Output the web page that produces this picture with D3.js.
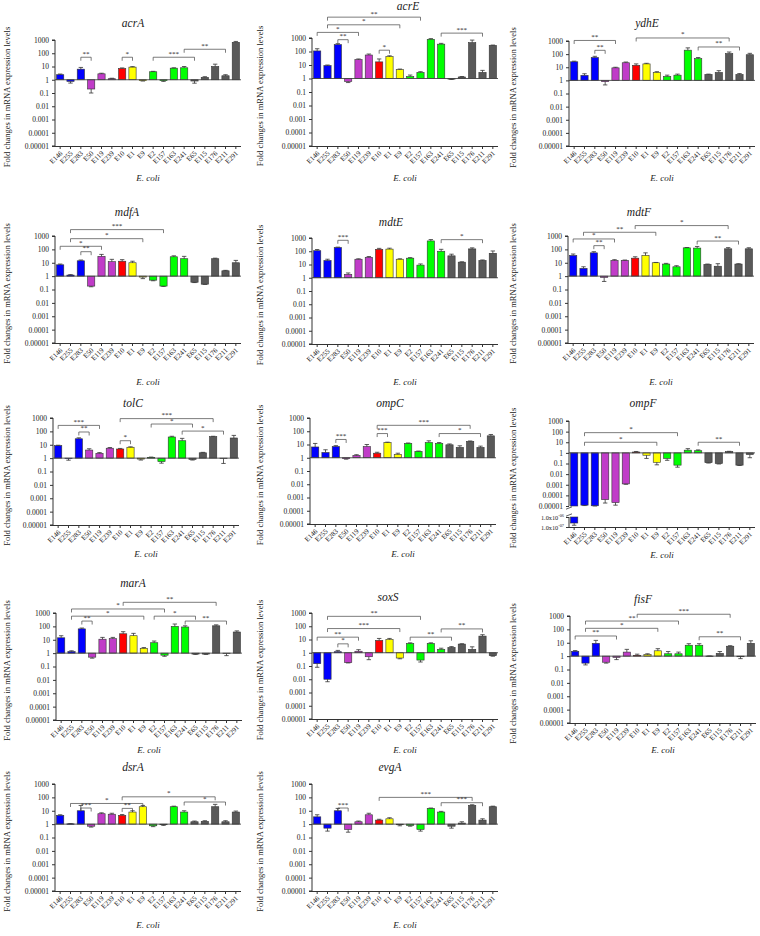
<!DOCTYPE html>
<html><head><meta charset="utf-8">
<script src="https://cdn.jsdelivr.net/npm/d3@7"></script>
<style>
body{margin:0;background:#fff}
svg{display:block}
text{font-family:"Liberation Serif","Times New Roman",serif;fill:#222}
</style>
</head><body>
<svg id="c" width="760" height="936"></svg>
<script>
// ---------------- DATA ----------------
const categories = ["E146","E255","E283","E50","E119","E239","E10","E1","E9","E2","E157","E163","E241","E65","E115","E176","E211","E291"];
const groups = ["blue","blue","blue","purple","purple","purple","red","yellow","yellow","green","green","green","green","grey","grey","grey","grey","grey"];
const groupColors = {blue:"#0000ff", purple:"#c03cc8", red:"#ff0000", yellow:"#ffff00", green:"#00ff00", grey:"#595959"};
const yTicks = [1000,100,10,1,0.1,0.01,0.001,0.0001,0.00001];
const yTickLabels = ["1000","100","10","1","0.1","0.01","0.001","0.0001","0.00001"];
const lowTicks = [1e-6,1e-7];
const lowTickExp = ["-06","-07"];

const acrA     = [2.4,0.75,6.3,0.2,2.8,1.2,7,9,0.85,4,0.85,7.5,8,0.8,1.5,10,2,670];
const acrA_err = [2.7,0.56,8.5,0.1,3.1,1.3,7.8,9.8,0.8,4.3,0.75,8,10,0.55,1.7,15,2.4,780];
const acrA_sig = [[2,3,50,"**"],[6,7,50,"*"],[9,13,50,"***"],[12,16,200,"**"]];

const acrE     = [110,9,320,0.6,25,55,17,42,4.5,1.4,2.8,800,350,0.9,1.3,450,2.8,280];
const acrE_err = [160,10,380,0.5,28,65,28,48,5,1.8,3.2,900,400,0.85,1.4,700,4,300];
const acrE_sig = [[0,4,2600,"*"],[2,3,750,"**"],[6,7,125,"*"],[1,8,9500,"*"],[1,10,35000,"**"],[12,16,2300,"***"]];

const ydhE     = [26,2.4,55,0.8,9,22,14,18,4,2,2.5,200,45,2.8,4,110,2.8,90];
const ydhE_err = [29,3.2,68,0.45,10,25,18,20,4.6,2.5,3,300,55,3,5.5,145,3.3,115];
const ydhE_sig = [[0,4,1100,"**"],[2,3,195,"**"],[6,15,1700,"*"],[12,16,350,"**"]];

const mdfA     = [7,1.2,14,0.18,30,12,13,10,0.85,0.5,0.18,28,20,0.35,0.25,20,2.5,10];
const mdfA_err = [8,1.3,16,0.16,42,18,17,13,0.65,0.45,0.17,33,30,0.33,0.24,22,2.7,15];
const mdfA_sig = [[0,4,170,"*"],[2,3,67,"**"],[1,8,630,"*"],[1,10,3000,"***"]];

const mdtE     = [110,20,190,1.8,25,35,140,145,25,30,9,600,100,45,15,150,20,70];
const mdtE_err = [135,25,205,2.3,27,40,165,170,27,33,11,760,140,60,16,180,22,105];
const mdtE_sig = [[2,3,670,"***"],[12,16,750,"*"]];

const mdtF     = [35,3.8,55,0.8,15,15,22,35,10,8,5,130,125,7.5,5.5,110,8,110];
const mdtF_err = [45,5,67,0.4,17,16,28,55,10.5,9,6,138,165,8,8.5,135,8.5,132];
const mdtF_sig = [[0,4,600,"*"],[2,3,190,"**"],[1,8,1900,"**"],[6,15,6000,"*"],[12,16,420,"**"]];

const tolC     = [8.5,0.97,28,4,2.3,5.5,4.8,6.5,0.85,1.15,0.55,38,20,0.8,2.5,40,0.98,32];
const tolC_err = [9.2,0.7,33,5,2.6,6.2,5.3,7,0.72,1.2,0.42,43,30,0.72,2.7,43,0.4,50];
const tolC_sig = [[0,4,280,"***"],[2,3,90,"**"],[6,7,20,"*"],[6,15,900,"***"],[9,13,355,"*"],[12,16,105,"*"]];

const ompC     = [6.5,2.5,7,0.85,1.5,7,2.2,14,1.8,12,3,14,12,9.5,6,17,6,45];
const ompC_err = [12,4,8.2,0.78,1.7,10,2.6,15,2.2,13,3.2,19,14,11,8,18.5,7.5,57];
const ompC_sig = [[2,3,24,"***"],[6,7,67,"***"],[6,15,280,"***"],[12,16,67,"*"]];

const ompF     = [2.5e-7,1.2e-5,1.05e-5,4e-5,2.1e-5,0.0012,1.2,0.6,0.13,0.3,0.07,1.8,1.6,0.12,0.1,1.3,0.07,0.7];
const ompF_err = [1.5e-7,1.1e-5,1.0e-5,1.9e-5,1.2e-5,0.0011,1.35,0.3,0.075,0.2,0.045,2.5,1.9,0.11,0.09,1.4,0.065,0.35];
const ompF_sig = [[1,10,80,"*"],[1,8,10,"*"],[12,16,10,"**"]];

const marA     = [14,1.3,65,0.5,11,12,28,20,2.3,6,0.7,100,90,0.85,0.85,110,0.95,38];
const marA_err = [20,1.5,75,0.42,15,15,40,30,2.6,8,0.58,150,110,0.8,0.8,130,0.65,46];
const marA_sig = [[2,3,250,"**"],[1,8,580,"*"],[1,10,2000,"*"],[6,15,6300,"**"],[9,13,580,"*"],[12,16,250,"**"]];

const soxS     = [0.15,0.01,1.2,0.18,1.3,0.5,8.5,10,0.4,5,0.28,5,1.8,2.5,4.5,1.8,18,0.6];
const soxS_err = [0.08,0.0065,1.5,0.17,1.7,0.3,12,12,0.35,5.6,0.2,5.6,2.2,2.9,4.8,2.8,23,0.55];
const soxS_sig = [[0,4,15,"**"],[2,3,4.7,"*"],[1,8,67,"***"],[1,10,560,"**"],[9,13,15,"**"],[12,16,63,"**"]];

const fisF     = [2.3,0.3,9,0.35,0.8,2,1.15,1.3,2.5,1.5,1.5,6.5,6.5,1.02,1.6,5.5,0.9,9];
const fisF_err = [2.6,0.22,15,0.3,0.55,3.2,1.4,1.5,3.6,2.2,2,8.5,8.5,1.03,2.2,6,0.65,14];
const fisF_sig = [[0,4,32,"**"],[1,8,120,"*"],[1,10,420,"**"],[6,15,1350,"***"],[12,16,28,"**"]];

const dsrA     = [4.5,1.05,10,0.7,6,5.5,4.5,8,20,0.75,0.9,20,8,1.5,1.6,20,1.5,8];
const dsrA_err = [5,1.1,25,0.6,7,6.5,5.2,10,25,0.65,0.8,22,10,1.7,1.8,30,1.8,9.5];
const dsrA_sig = [[2,3,16,"***"],[1,8,35,"*"],[6,7,15,"**"],[6,15,110,"*"],[12,16,45,"*"]];

const evgA     = [3.5,0.5,10,0.4,1.5,5,2,2.5,0.9,0.8,0.4,15,8,0.7,1.2,25,2,20];
const evgA_err = [5,0.3,15,0.25,1.7,6.5,2.3,3,0.75,0.7,0.3,16,9,0.5,1.5,28,2.5,22];
const evgA_sig = [[2,3,16,"***"],[6,15,100,"***"],[12,16,40,"***"]];

// ---------------- LAYOUT ----------------
const panels = [
 {g:"acrA", v:acrA, e:acrA_err, s:acrA_sig, ax:55,  top:40,  bot:146, tx:133, ty:23,  ey:178, lx:7},
 {g:"acrE", v:acrE, e:acrE_err, s:acrE_sig, ax:312, top:38,  bot:146, tx:408, ty:6,   ey:178, lx:260},
 {g:"ydhE", v:ydhE, e:ydhE_err, s:ydhE_sig, ax:569, top:41,  bot:146, tx:647, ty:23,  ey:178, lx:513},
 {g:"mdfA", v:mdfA, e:mdfA_err, s:mdfA_sig, ax:55,  top:236, bot:343, tx:127, ty:212, ey:382, lx:7},
 {g:"mdtE", v:mdtE, e:mdtE_err, s:mdtE_sig, ax:312, top:238, bot:344, tx:391, ty:222, ey:382, lx:260},
 {g:"mdtF", v:mdtF, e:mdtF_err, s:mdtF_sig, ax:568, top:236, bot:343, tx:639, ty:212, ey:382, lx:513},
 {g:"tolC", v:tolC, e:tolC_err, s:tolC_sig, ax:53,  top:418, bot:525, tx:133, ty:403, ey:554, lx:7},
 {g:"ompC", v:ompC, e:ompC_err, s:ompC_sig, ax:310, top:418, bot:524, tx:390, ty:403, ey:554, lx:260},
 {g:"ompF", v:ompF, e:ompF_err, s:ompF_sig, ax:569, top:421, bot:506, tx:643, ty:403, ey:555, lx:513, low:[517,527]},
 {g:"marA", v:marA, e:marA_err, s:marA_sig, ax:56,  top:613, bot:720, tx:133, ty:583, ey:750, lx:7},
 {g:"soxS", v:soxS, e:soxS_err, s:soxS_sig, ax:312, top:613, bot:719, tx:388, ty:597, ey:750, lx:260},
 {g:"fisF", v:fisF, e:fisF_err, s:fisF_sig, ax:570, top:616, bot:723, tx:643, ty:599, ey:750, lx:513},
 {g:"dsrA", v:dsrA, e:dsrA_err, s:dsrA_sig, ax:55,  top:784, bot:891, tx:133, ty:767, ey:925, lx:7},
 {g:"evgA", v:evgA, e:evgA_err, s:evgA_sig, ax:312, top:784, bot:891, tx:390, ty:767, ey:925, lx:260}
];

const svg = d3.select("#c");
const INK = "#333";

panels.forEach(p => {
  const g = svg.append("g");
  const W = 186;
  const x = d3.scaleBand().domain(categories).range([p.ax, p.ax + W]).paddingInner(0.3).paddingOuter(0.15);
  const segs = [{sc: d3.scaleLog().domain([1e-5, 1000]).range([p.bot, p.top])}];
  if (p.low) segs.push({sc: d3.scaleLog().domain([1e-7, 1e-6]).range([p.low[1], p.low[0]])});
  const yOf = v => {
    for (const s of segs) { const d = s.sc.domain(); if (v >= d[0]*0.999 && v <= d[1]*1.001) return s.sc(v); }
    return segs[segs.length-1].sc(Math.max(v, 1e-7));
  };
  const axisBottom = p.low ? p.low[1] : p.bot;
  const cx = i => x(categories[i]) + x.bandwidth()/2;

  // bars
  p.v.forEach((v, i) => {
    const lo = Math.min(1, v), hi = Math.max(1, v);
    segs.forEach(s => {
      const d = s.sc.domain();
      const a = Math.max(lo, d[0]), b = Math.min(hi, d[1]);
      if (a < b) {
        const y1 = s.sc(b), y2 = s.sc(a);
        g.append("rect").attr("x", x(categories[i])).attr("y", y1)
          .attr("width", x.bandwidth()).attr("height", Math.max(0.5, y2 - y1))
          .attr("fill", groupColors[groups[i]]).attr("stroke", INK).attr("stroke-width", 0.6);
      }
    });
    // error bar
    const e = p.e[i];
    const ya = yOf(v), yb = yOf(e);
    g.append("line").attr("x1", cx(i)).attr("x2", cx(i)).attr("y1", ya).attr("y2", yb)
      .attr("stroke", INK).attr("stroke-width", 0.8);
    g.append("line").attr("x1", cx(i) - 2.2).attr("x2", cx(i) + 2.2).attr("y1", yb).attr("y2", yb)
      .attr("stroke", INK).attr("stroke-width", 0.8);
  });

  // baseline at 1
  g.append("line").attr("x1", p.ax).attr("x2", p.ax + W).attr("y1", yOf(1)).attr("y2", yOf(1))
    .attr("stroke", "#444").attr("stroke-width", 0.9);

  // y axis (top segment)
  const yAx = d3.axisLeft(segs[0].sc).tickValues(yTicks).tickFormat((d, i) => yTickLabels[i]).tickSize(3).tickPadding(3);
  const ga = g.append("g").attr("transform", `translate(${p.ax},0)`).call(yAx);
  ga.select(".domain").attr("d", `M-3,${p.top}H0V${p.bot}` + (p.low ? "" : "H-3"));
  if (p.low) {
    const yAx2 = d3.axisLeft(segs[1].sc).tickValues(lowTicks).tickFormat("").tickSize(3);
    const gb = g.append("g").attr("transform", `translate(${p.ax},0)`).call(yAx2);
    gb.select(".domain").attr("d", `M0,${p.low[0]}V${p.low[1]}`);
    gb.selectAll(".tick").each(function(d, i) {
      const t = d3.select(this).append("text").attr("x", -5).attr("dy", "0.32em")
        .attr("text-anchor", "end").attr("font-size", 6.3).attr("fill", "#222");
      t.append("tspan").text("1.0x10");
      t.append("tspan").attr("font-size", 4.3).attr("dy", "-0.55em").text(lowTickExp[i]);
    });
    gb.selectAll("line,path").attr("stroke", INK);
    // break marks
    [p.bot + 2, p.low[0] - 2].forEach(yy => g.append("line").attr("x1", p.ax - 3).attr("x2", p.ax + 3)
      .attr("y1", yy + 1.2).attr("y2", yy - 1.2).attr("stroke", INK).attr("stroke-width", 0.8));
  }
  ga.selectAll("line,path").attr("stroke", INK);
  ga.selectAll("text").attr("font-size", 7.5).attr("fill", "#222");

  // x axis
  const xAx = d3.axisBottom(x).tickSize(3).tickSizeOuter(0).tickFormat("");
  const gx = g.append("g").attr("transform", `translate(0,${axisBottom})`).call(xAx);
  gx.select(".domain").attr("d", `M${p.ax},0.5H${p.ax + W}`);
  gx.selectAll("line,path").attr("stroke", INK);
  gx.selectAll(".tick").append("text")
    .attr("transform", "translate(1,6) rotate(-45)")
    .attr("text-anchor", "end").attr("dy", "0.35em").attr("font-size", 7).attr("fill", "#222")
    .text(d => d);

  // significance brackets
  p.s.forEach(([i, j, lvl, lab]) => {
    const yy = yOf(lvl);
    g.append("path").attr("d", `M${cx(i)},${yy + 3.5}V${yy}H${cx(j)}V${yy + 3.5}`)
      .attr("fill", "none").attr("stroke", "#444").attr("stroke-width", 0.7);
    g.append("text").attr("x", (cx(i) + cx(j)) / 2).attr("y", yy - 1.5)
      .attr("text-anchor", "middle").attr("font-size", 7).text(lab);
  });

  // title
  g.append("text").attr("x", p.tx).attr("y", p.ty + 4).attr("text-anchor", "middle")
    .attr("font-size", 11.5).attr("font-style", "italic").text(p.g);
  // x title
  g.append("text").attr("x", p.ax + W / 2).attr("y", p.ey + 3).attr("text-anchor", "middle")
    .attr("font-size", 9).attr("font-style", "italic").text("E. coli");
  // y title
  const yc = (p.top + axisBottom) / 2 + 4;
  g.append("text").attr("transform", `translate(${p.lx + 3},${yc}) rotate(-90)`)
    .attr("text-anchor", "middle").attr("font-size", 8.5).text("Fold changes in mRNA expression levels");
});
</script>
</body></html>
